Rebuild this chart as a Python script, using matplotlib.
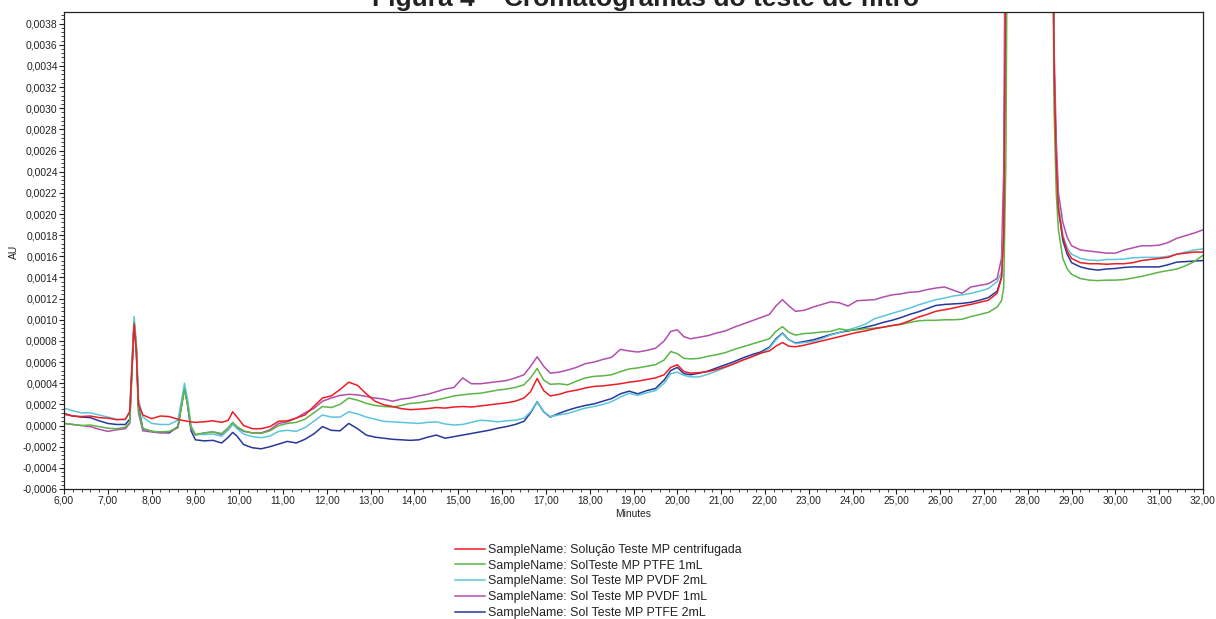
import matplotlib
matplotlib.use("Agg")
import matplotlib.pyplot as plt
from matplotlib.ticker import MultipleLocator, FuncFormatter
import numpy as np

plt.rcParams["font.family"] = ["Liberation Sans", "DejaVu Sans"]

# retention time (min)
minutes = [
    6.0, 6.2, 6.4, 6.6, 6.8, 7.0, 7.2, 7.4,
    7.5, 7.55, 7.6, 7.65, 7.7, 7.8,
    8.0, 8.2, 8.4, 8.6,
    8.68, 8.75, 8.82, 8.9,
    9.0, 9.2, 9.4, 9.6, 9.75, 9.85, 9.95,
    10.1, 10.3, 10.5, 10.7, 10.9, 11.1, 11.3, 11.5, 11.7, 11.9,
    12.1, 12.3, 12.5, 12.7, 12.9, 13.1, 13.3, 13.5, 13.7, 13.9,
    14.1, 14.3, 14.5, 14.7, 14.9, 15.1, 15.3, 15.5, 15.7, 15.9,
    16.1, 16.3, 16.5,
    16.65, 16.8, 16.95,
    17.1, 17.3, 17.5, 17.7, 17.9, 18.1, 18.3, 18.5, 18.7, 18.9,
    19.1, 19.3, 19.5, 19.7,
    19.85, 20.0, 20.15,
    20.3, 20.5, 20.7, 20.9, 21.1, 21.3, 21.5, 21.7, 21.9, 22.1,
    22.25, 22.4, 22.55,
    22.7, 22.9, 23.1, 23.3, 23.5, 23.7, 23.9, 24.1, 24.3, 24.5,
    24.7, 24.9, 25.1, 25.3, 25.5, 25.7, 25.9, 26.1, 26.3, 26.5,
    26.7, 26.9, 27.1, 27.3,
    27.4, 27.45, 27.5, 27.55,
    28.55, 28.6, 28.65, 28.7, 28.8, 28.9,
    29.0, 29.2, 29.4, 29.6, 29.8, 30.0, 30.2, 30.4, 30.6, 30.8,
    31.0, 31.2, 31.4, 31.6, 31.8, 32.0,
]

# absorbance in units of 1e-4 AU (main peak at 27.5-28.5 min runs off scale)
au_centrifugada = [
    1.07, 0.9, 0.85, 0.9, 0.75, 0.7, 0.55, 0.6,
    1.3, 5.5, 9.6, 7.0, 2.0, 1.0,
    0.65, 0.9, 0.85, 0.6,
    0.5, 0.45, 0.4, 0.35,
    0.3, 0.35, 0.45, 0.3, 0.5, 1.3, 0.8,
    0.0, -0.3, -0.3, -0.1, 0.4, 0.45, 0.7, 1.0, 1.8, 2.6,
    2.8, 3.4, 4.1, 3.8, 3.0, 2.3, 1.96, 1.8, 1.6, 1.5,
    1.55, 1.6, 1.7, 1.65, 1.75, 1.8, 1.75, 1.85, 1.95, 2.05,
    2.15, 2.3, 2.6,
    3.2, 4.45, 3.3,
    2.8, 2.95, 3.2, 3.35, 3.55, 3.7, 3.75, 3.85, 3.95, 4.1,
    4.2, 4.35, 4.5, 4.8,
    5.5, 5.75, 5.1,
    4.95, 5.0, 5.1, 5.3, 5.55, 5.85, 6.2, 6.5, 6.85, 7.05,
    7.5, 7.85, 7.5,
    7.45, 7.6, 7.8, 8.0, 8.2, 8.4, 8.6, 8.8, 8.95, 9.15,
    9.3, 9.45, 9.6, 9.9, 10.25, 10.5, 10.8, 10.95, 11.1, 11.3,
    11.45, 11.65, 11.85, 12.5,
    14.0, 18.0, 45.0, 60.0,
    60.0, 34.0, 25.0, 20.5, 17.8, 16.5,
    15.8, 15.4, 15.3, 15.3, 15.25, 15.3, 15.3, 15.4, 15.6, 15.7,
    15.8, 15.9, 16.2, 16.3, 16.4, 16.4,
]

au_ptfe_1ml = [
    0.2, 0.1, 0.0, 0.05, -0.1, -0.25, -0.3, -0.15,
    0.3, 5.0, 9.7, 7.5, 1.5, -0.3,
    -0.55, -0.6, -0.55, -0.2,
    1.8, 3.4, 2.0, -0.2,
    -0.85, -0.7, -0.6, -0.75, -0.2, 0.3, -0.1,
    -0.5, -0.7, -0.75, -0.5, 0.0, 0.2, 0.3, 0.6, 1.2, 1.8,
    1.7, 2.0, 2.6, 2.4, 2.1, 1.9, 1.8, 1.75, 1.9, 2.1,
    2.15, 2.3, 2.4, 2.6, 2.8, 2.9, 3.0, 3.05, 3.2, 3.35,
    3.45, 3.6, 3.85,
    4.5, 5.4, 4.3,
    3.9, 3.95, 3.85, 4.2, 4.5, 4.65, 4.7, 4.8, 5.1, 5.35,
    5.45, 5.6, 5.75, 6.2,
    7.0, 6.8, 6.35,
    6.3, 6.35, 6.55, 6.7, 6.9, 7.2, 7.45, 7.7, 7.95, 8.2,
    8.9, 9.35, 8.8,
    8.55, 8.7, 8.75, 8.85, 8.9, 9.15, 9.0, 9.05, 9.15, 9.2,
    9.3, 9.45, 9.55, 9.75, 9.9, 9.95, 9.95, 10.0, 10.0, 10.05,
    10.3, 10.5, 10.7, 11.2,
    11.8, 13.0, 25.0, 60.0,
    60.0, 30.0, 22.0, 18.5, 15.8, 14.8,
    14.3, 13.9, 13.75, 13.7, 13.75, 13.75, 13.8, 13.95, 14.1, 14.3,
    14.5, 14.65, 14.8, 15.1, 15.5, 16.1,
]

au_pvdf_2ml = [
    1.65, 1.4, 1.2, 1.2, 1.0, 0.8, 0.6, 0.55,
    1.3, 6.0, 10.3, 8.0, 2.5, 0.8,
    0.2, 0.1, 0.1, 0.5,
    2.3, 4.0, 2.5, 0.0,
    -0.85, -0.85, -0.8, -1.0, -0.4, 0.15, -0.3,
    -0.8, -1.05, -1.15, -1.0, -0.55, -0.45, -0.55, -0.2, 0.4, 1.0,
    0.8, 0.8, 1.3, 1.1, 0.8, 0.6, 0.4, 0.35, 0.3, 0.25,
    0.2, 0.3, 0.35, 0.15, 0.05, 0.1, 0.3, 0.5, 0.45, 0.35,
    0.45, 0.5, 0.7,
    1.3, 2.25, 1.3,
    0.85, 1.0, 1.15, 1.4, 1.65, 1.8, 2.0, 2.25, 2.7, 3.05,
    2.85, 3.1, 3.3, 4.0,
    4.9, 5.05, 4.75,
    4.6, 4.6, 4.85, 5.15, 5.5, 5.85, 6.2, 6.5, 6.8, 7.3,
    8.1, 8.7, 8.1,
    7.75, 7.85, 7.95, 8.2, 8.55, 8.8, 9.05, 9.3, 9.6, 10.1,
    10.35, 10.6, 10.85, 11.1, 11.4, 11.65, 11.9, 12.05, 12.25, 12.35,
    12.5, 12.7, 12.95, 13.6,
    14.5, 19.0, 45.0, 60.0,
    60.0, 34.0, 25.0, 21.0, 18.0, 16.8,
    16.2, 15.8, 15.65, 15.6, 15.7, 15.7, 15.75, 15.85, 15.9, 15.9,
    15.9, 16.0, 16.2, 16.4, 16.6, 16.7,
]

au_pvdf_1ml = [
    0.2, 0.1, 0.0, -0.1, -0.35, -0.55, -0.4, -0.3,
    0.2, 5.0, 9.5, 7.2, 1.2, -0.5,
    -0.6, -0.7, -0.6, -0.2,
    1.8, 3.5, 2.0, -0.3,
    -0.9, -0.7, -0.6, -0.85, -0.4, 0.15, -0.2,
    -0.55, -0.7, -0.7, -0.4, 0.2, 0.35, 0.7, 1.2, 1.6, 2.3,
    2.6, 2.85, 2.95, 2.9, 2.75, 2.6, 2.5, 2.3, 2.5, 2.6,
    2.8, 2.95, 3.2, 3.45, 3.6, 4.5, 3.95, 3.95, 4.05, 4.15,
    4.25, 4.5, 4.8,
    5.6, 6.5, 5.6,
    4.95, 5.05, 5.25, 5.5, 5.85, 6.0, 6.25, 6.45, 7.2, 7.05,
    6.95, 7.1, 7.3, 8.0,
    8.9, 9.05, 8.4,
    8.2, 8.35, 8.5, 8.75, 8.95, 9.3, 9.6, 9.9, 10.2, 10.5,
    11.3, 11.9, 11.3,
    10.8, 10.9, 11.2, 11.45, 11.7, 11.6, 11.3, 11.8, 11.85, 11.9,
    12.15, 12.35, 12.45, 12.6, 12.65, 12.85, 13.0, 13.1, 12.8, 12.5,
    13.1, 13.25, 13.4, 13.9,
    15.8, 24.0, 60.0, 60.0,
    60.0, 36.0, 27.0, 22.0, 19.2, 17.8,
    17.0, 16.6, 16.5, 16.4, 16.3, 16.3, 16.6, 16.8, 17.0, 17.0,
    17.05, 17.3, 17.7, 17.95, 18.2, 18.5,
]

au_ptfe_2ml = [
    1.15, 0.9, 0.8, 0.75, 0.45, 0.2, 0.1, 0.1,
    0.6, 5.2, 9.8, 7.5, 1.8, -0.3,
    -0.55, -0.65, -0.7, -0.1,
    1.9, 3.6, 2.0, -0.5,
    -1.35, -1.45, -1.4, -1.65, -1.1, -0.65, -1.0,
    -1.8, -2.1, -2.2, -2.0, -1.75, -1.5, -1.65, -1.3, -0.8, -0.1,
    -0.45, -0.5, 0.2, -0.3, -0.9, -1.1, -1.2, -1.3, -1.35, -1.4,
    -1.35, -1.1, -0.9, -1.2, -1.05, -0.9, -0.75, -0.6, -0.45, -0.25,
    -0.1, 0.1, 0.4,
    1.2, 2.25, 1.3,
    0.8, 1.15, 1.45, 1.7, 1.9, 2.05, 2.3, 2.55, 3.0, 3.25,
    3.0, 3.3, 3.5, 4.3,
    5.2, 5.5, 4.9,
    4.8, 4.95, 5.15, 5.45, 5.75, 6.05, 6.4, 6.7, 6.95, 7.4,
    8.2, 8.75, 8.1,
    7.8, 7.95, 8.1, 8.35, 8.6, 8.8, 8.95, 9.1, 9.3, 9.5,
    9.75, 9.95, 10.2, 10.5, 10.75, 11.05, 11.35, 11.45, 11.5, 11.55,
    11.65, 11.85, 12.1, 12.7,
    14.0, 18.5, 45.0, 60.0,
    60.0, 34.0, 25.0, 20.5, 17.5, 16.2,
    15.4, 15.0, 14.8, 14.7, 14.8, 14.85, 14.95, 15.0, 15.0, 15.0,
    15.0, 15.2, 15.45, 15.5, 15.55, 15.6,
]

samples = [
    ("SampleName: Solução Teste MP centrifugada", au_centrifugada, "#ee1c25"),
    ("SampleName: SolTeste MP PTFE 1mL", au_ptfe_1ml, "#5cb544"),
    ("SampleName: Sol Teste MP PVDF 2mL", au_pvdf_2ml, "#5bc6da"),
    ("SampleName: Sol Teste MP PVDF 1mL", au_pvdf_1ml, "#b24fac"),
    ("SampleName: Sol Teste MP PTFE 2mL", au_ptfe_2ml, "#26399a"),
]

fig = plt.figure(figsize=(12.16, 6.19), dpi=100)
ax = fig.add_axes([64 / 1216, 1 - 489 / 619, (1203 - 64) / 1216, (489 - 12) / 619])

t = np.array(minutes)
handles = {}
# last sample first so the centrifuged one ends up on top
for name, vals, col in reversed(samples):
    (ln,) = ax.plot(t, np.array(vals) * 1e-4, color=col, lw=1.1)
    handles[name] = ln

ax.set_xlim(6, 32)
ax.set_ylim(-0.0006, 0.00391)

ax.xaxis.set_major_locator(MultipleLocator(1))
ax.xaxis.set_minor_locator(MultipleLocator(0.2))
ax.yaxis.set_major_locator(MultipleLocator(0.0002))
ax.yaxis.set_minor_locator(MultipleLocator(0.00004))


def fmt_y(v, pos):
    if abs(v) < 1e-9:
        v = 0.0
    return f"{v:.4f}".replace(".", ",")


ax.xaxis.set_major_formatter(FuncFormatter(lambda v, p: f"{v:.2f}".replace(".", ",")))
ax.yaxis.set_major_formatter(FuncFormatter(fmt_y))

ax.tick_params(which="major", direction="out", length=3.5, width=0.8, labelsize=7.4,
               colors="#222222", pad=1)
ax.tick_params(which="minor", direction="out", length=2, width=0.6, colors="#222222")
for s in ax.spines.values():
    s.set_color("#222222")
    s.set_linewidth(0.9)

ax.set_xlabel("Minutes", fontsize=7.4, color="#222222", labelpad=3)
fig.text(14 / 1216, 1 - 252 / 619, "AU", rotation=90, fontsize=7.4, color="#222222",
         ha="center", va="center")

# title sits partly above the top edge of the page
fig.text(646 / 1216, 1 - 6 / 619, "Figura 4 – Cromatogramas do teste de filtro",
         fontsize=19, fontweight="bold", color="#222222", ha="center", va="baseline")

fig.legend([handles[n] for n, _, _ in samples], [n for n, _, _ in samples],
           loc="upper left", bbox_to_anchor=(455 / 1216, 1 - 544 / 619),
           frameon=False, fontsize=8.9, handlelength=2.4, handletextpad=0.3,
           labelspacing=0.3, borderpad=0, borderaxespad=0, labelcolor="#222222")

fig.savefig("out.png", dpi=100)
